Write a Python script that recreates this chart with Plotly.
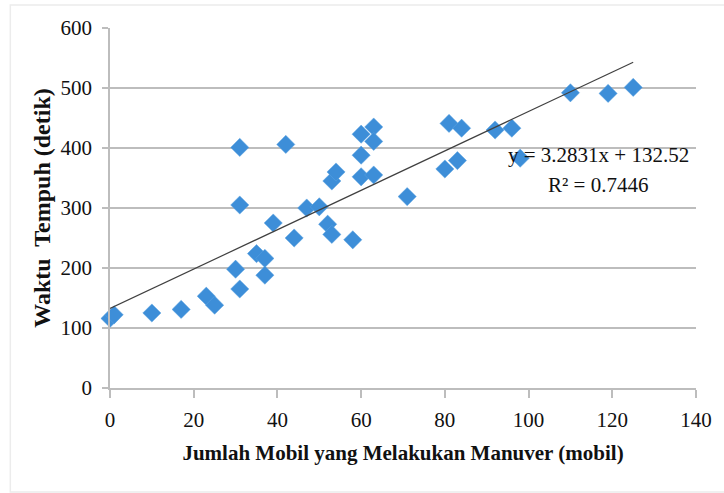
import numpy as np
import plotly.graph_objects as go

# Observed data: number of cars manoeuvring vs. travel time
jumlah_mobil = [0, 1, 10, 17, 23, 25, 30, 31, 31, 31, 35, 37, 37, 39, 42, 44,
                47, 50, 52, 53, 53, 54, 58, 60, 60, 60, 63, 63, 63, 71, 80, 81,
                83, 84, 92, 96, 98, 110, 119, 125]
waktu_tempuh = [116, 122, 125, 131, 153, 138, 198, 165, 305, 401, 224, 216, 188, 275, 406, 250,
                300, 302, 273, 256, 345, 360, 247, 423, 388, 352, 435, 411, 355, 319, 365, 441,
                379, 433, 430, 433, 383, 492, 491, 501]

# Linear trend line coefficients
slope = 3.2831
intercept = 132.52
r_squared = 0.7446

x_ticks = [0, 20, 40, 60, 80, 100, 120, 140]
y_ticks = [0, 100, 200, 300, 400, 500, 600]

serif = "Liberation Serif, Times New Roman, serif"
grid_col = "#bdbdbd"

fig = go.Figure()

fig.add_trace(go.Scatter(
    x=jumlah_mobil, y=waktu_tempuh, mode="markers",
    marker=dict(symbol="diamond", size=14, color="#3d8ed8",
                line=dict(color="#5aa2e0", width=0.5)),
    cliponaxis=False, showlegend=False, hoverinfo="x+y",
))

trend_x = np.array([0, max(jumlah_mobil)])
trend_y = slope * trend_x + intercept
fig.add_trace(go.Scatter(
    x=trend_x, y=trend_y, mode="lines",
    line=dict(color="#404040", width=1.2),
    showlegend=False, hoverinfo="skip",
))

fig.add_annotation(
    x=116.7, y=388, xref="x", yref="y", showarrow=False,
    text=f"y = {slope}x + {intercept}",
    font=dict(family=serif, size=21, color="#111111"),
)
fig.add_annotation(
    x=116.7, y=338, xref="x", yref="y", showarrow=False,
    text=f"R² = {r_squared}",
    font=dict(family=serif, size=21, color="#111111"),
)

# faint outer frame of the chart area
fig.add_shape(type="rect", xref="paper", yref="paper",
              x0=-100 / 588, x1=1.2, y0=-104 / 360, y1=383 / 360,
              line=dict(color="#ececec", width=1.5), layer="below")

fig.update_layout(
    width=724, height=493,
    margin=dict(l=110, r=26, t=28, b=105),
    paper_bgcolor="white", plot_bgcolor="white",
    font=dict(family=serif, color="#111111"),
    xaxis=dict(
        range=[0, 140], tickvals=x_ticks, ticks="outside", ticklen=8,
        tickcolor=grid_col, tickwidth=1.5, ticklabelstandoff=4,
        showgrid=False, zeroline=False,
        showline=True, linecolor=grid_col, linewidth=1.5,
        tickfont=dict(family=serif, size=21, color="#111111"),
        title=dict(text="<b>Jumlah Mobil yang Melakukan Manuver (mobil)</b>",
                   font=dict(family=serif, size=21), standoff=14),
    ),
    yaxis=dict(
        range=[0, 600], tickvals=y_ticks, ticks="outside", ticklen=6,
        tickcolor=grid_col, tickwidth=1.5, ticklabelstandoff=6,
        showgrid=True, gridcolor=grid_col, gridwidth=1.5,
        zeroline=False,
        showline=True, linecolor=grid_col, linewidth=1.5,
        tickfont=dict(family=serif, size=21, color="#111111"),
        title=dict(text="<b>Waktu  Tempuh (detik)</b>",
                   font=dict(family=serif, size=24), standoff=3),
    ),
)

fig.write_html("out.html")
